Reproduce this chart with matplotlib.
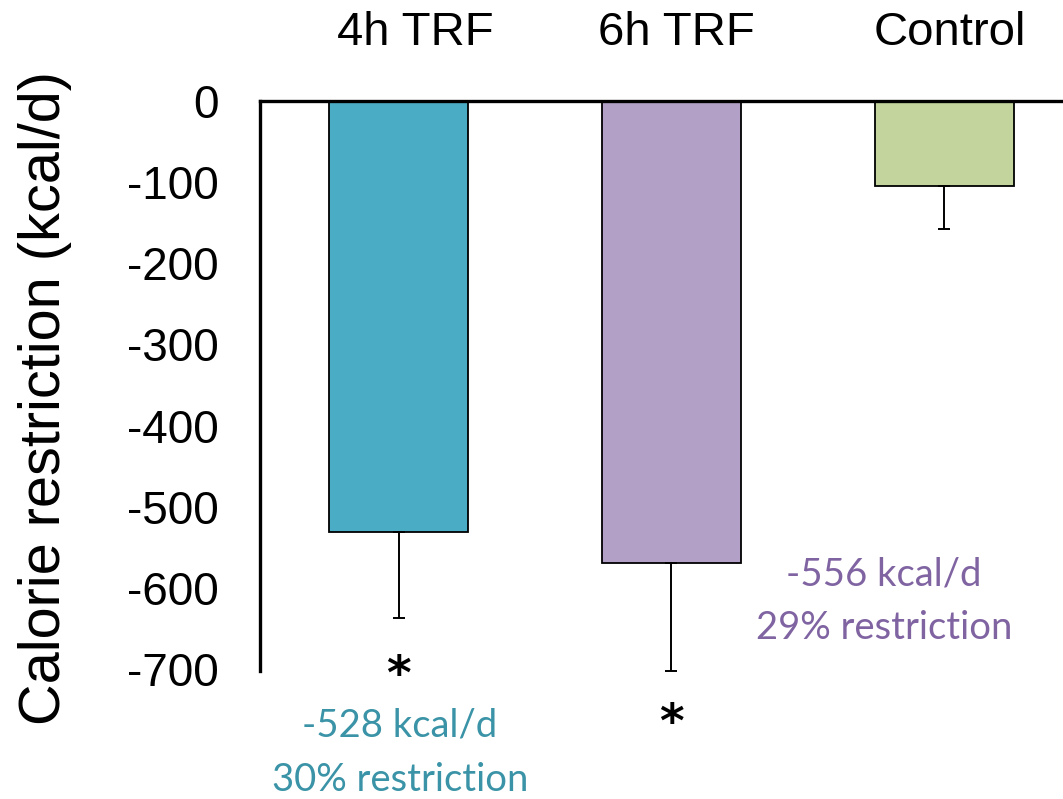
import matplotlib
matplotlib.use("Agg")
import matplotlib.pyplot as plt

groups = ["4h TRF", "6h TRF", "Control"]
means = [-531, -570, -105]
err_low = [106, 132, 53]
bar_colors = ["#4BACC6", "#B3A0C7", "#C3D59D"]
yticks = [0, -100, -200, -300, -400, -500, -600, -700]
note_4h = ["-528 kcal/d", "30% restriction"]
note_6h = ["-556 kcal/d", "29% restriction"]
note_colors = ["#3A93A6", "#8064A2"]

W, H = 1063, 799
fig = plt.figure(figsize=(W / 100, H / 100), dpi=100)
ax = fig.add_axes([260 / W, 1 - 670.5 / H, 1 - 260 / W, (670.5 - 101) / H])

x = list(range(len(groups)))
ax.bar(x, means, width=0.51, color=bar_colors, edgecolor="black", linewidth=1.3, zorder=2)
ax.errorbar(x, means, yerr=[err_low, [0] * len(means)], fmt="none", ecolor="black",
            elinewidth=1.4, capsize=4, capthick=1.4, zorder=3, clip_on=False)

ax.set_xlim(-0.508, 2.436)
ax.set_ylim(-702, 0)
ax.set_yticks(yticks)
ax.set_yticklabels([str(v) for v in yticks], fontsize=33, family="Liberation Sans")
ax.tick_params(axis="y", length=0, pad=30)
ax.xaxis.tick_top()
ax.set_xticks([0.06, 1.018, 2.022])
ax.set_xticklabels(groups, fontsize=34, family="Liberation Sans")
ax.tick_params(axis="x", length=0, pad=33)

for s in ["right", "bottom"]:
    ax.spines[s].set_visible(False)
for s in ["left", "top"]:
    ax.spines[s].set_linewidth(2.4)
ax.spines["left"].set_bounds(-702, 0)

fig.text(45 / W, 1 - 398 / H, "Calorie restriction (kcal/d)", rotation=90,
         ha="center", va="center", fontsize=41.5, family="Liberation Sans")

# asterisks
ax.text(0, -710, "*", ha="center", va="center", fontsize=34, fontweight="bold",
        clip_on=False)
ax.text(1, -768, "*", ha="center", va="center", fontsize=34, fontweight="bold",
        clip_on=False)

# annotations
ax.text(0.005, -770, note_4h[0], ha="center", va="center", fontsize=27.5,
        family="Lato", color=note_colors[0], clip_on=False)
ax.text(0.005, -837, note_4h[1], ha="center", va="center", fontsize=27.5,
        family="Lato", color=note_colors[0], clip_on=False)
ax.text(1.78, -584, note_6h[0], ha="center", va="center", fontsize=27.5,
        family="Lato", color=note_colors[1], clip_on=False)
ax.text(1.78, -649, note_6h[1], ha="center", va="center", fontsize=27.5,
        family="Lato", color=note_colors[1], clip_on=False)

fig.savefig("out.png", dpi=100)
